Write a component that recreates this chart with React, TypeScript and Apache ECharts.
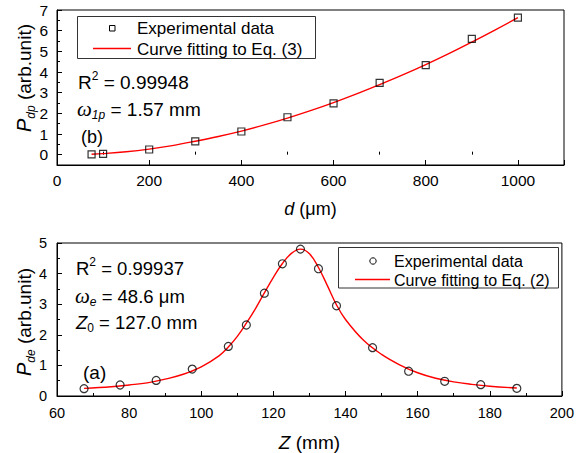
import React, { useEffect, useRef } from 'react';
import * as echarts from 'echarts';

// ---- Top panel (b): P_dp vs d ----
const topD = [75, 100, 200, 300, 400, 500, 600, 700, 800, 900, 1000];
const topP = [0.01, 0.04, 0.25, 0.64, 1.12, 1.81, 2.48, 3.47, 4.33, 5.6, 6.63];
const topFitD = [75, 100, 150, 200, 250, 300, 350, 400, 450, 500, 550, 600, 650, 700, 750, 800, 850, 900, 950, 1000];
const topFitP = [0.02, 0.05, 0.14, 0.27, 0.44, 0.65, 0.88, 1.14, 1.44, 1.77, 2.13, 2.52, 2.94, 3.39, 3.86, 4.36, 4.89, 5.45, 6.03, 6.63];
const topYLabels = [0, 1, 2, 3, 4, 5, 6, 7];
const topYMinor = [0.5, 1.5, 2.5, 3.5, 4.5, 5.5, 6.5];
const topXMinor = [100, 300, 500, 700, 900];
const topLegend = ['Experimental data', 'Curve fitting to Eq. (3)'];

// ---- Bottom panel (a): P_de vs Z ----
const botZ = [67.5, 77.5, 87.5, 97.5, 107.5, 112.5, 117.5, 122.5, 127.5, 132.5, 137.5, 147.5, 157.5, 167.5, 177.5, 187.5];
const botP = [0.24, 0.36, 0.51, 0.88, 1.62, 2.32, 3.36, 4.32, 4.8, 4.16, 2.95, 1.58, 0.81, 0.48, 0.37, 0.25];
const botFitZ = [67.5, 75, 80, 85, 90, 95, 100, 105, 107.5, 110, 112.5, 115, 117.5, 120, 122.5, 125, 127.5, 130, 132.5, 135, 137.5, 140, 145, 150, 155, 160, 165, 170, 175, 180, 187.5];
const botFitP = [0.25, 0.3, 0.36, 0.43, 0.55, 0.71, 0.95, 1.32, 1.6, 1.95, 2.38, 2.85, 3.37, 3.88, 4.33, 4.66, 4.8, 4.65, 4.2, 3.6, 2.98, 2.5, 1.82, 1.36, 1.02, 0.76, 0.58, 0.46, 0.38, 0.32, 0.26];
const botYMinor = [0.5, 1.5, 2.5, 3.5, 4.5];
const botXMinor = [70, 90, 110, 130, 150, 170, 190];
const botLegend = ['Experimental data', 'Curve fitting to Eq. (2)'];

const FONT = '"Liberation Sans", Arial, sans-serif';
const SERIF = '"Liberation Serif", "Times New Roman", serif';

const pairs = (xs: number[], ys: number[]) => xs.map((x, i) => [x, ys[i]]);

const majorTick = (len: number) => ({ show: true, inside: true, length: len, lineStyle: { color: '#000', width: 1 } });

function mainX(grid: number, min: number, max: number, interval: number, name: string, nameGap: number, fs: number, nfs: number, margin: number) {
  return {
    type: 'value', gridIndex: grid, min, max, interval, position: 'bottom',
    axisLine: { show: true, onZero: false, lineStyle: { color: '#000', width: 1 } },
    axisTick: majorTick(5),
    axisLabel: {
      margin, fontSize: fs, color: '#000', fontFamily: FONT,
      formatter: (v: number) => (Math.round(v) % interval === 0 ? String(v) : ''),
    },
    splitLine: { show: false },
    name, nameLocation: 'middle', nameGap,
    nameTextStyle: {
      fontSize: nfs, color: '#000', fontFamily: FONT,
      rich: { i: { fontStyle: 'italic', fontSize: nfs, fontFamily: FONT, color: '#000' } },
    },
  };
}

function minorAxis(kind: 'x' | 'y', grid: number, min: number, max: number, values: number[]) {
  return {
    type: 'value', gridIndex: grid, min, max, position: kind === 'x' ? 'bottom' : 'left',
    axisLine: { show: false },
    axisTick: { show: true, inside: true, length: 3, customValues: values, lineStyle: { color: '#000', width: 1 } },
    axisLabel: { show: false },
    splitLine: { show: false },
  };
}

function richText(x: number, y: number, text: string, rich: any, rotation = 0, align = 'left') {
  return {
    type: 'text', x, y, rotation, z: 50,
    style: {
      text, rich, align, textAlign: align, verticalAlign: 'middle', textVerticalAlign: 'middle', fill: '#000',
    },
  };
}

function plainText(x: number, y: number, text: string, fs: number) {
  return {
    type: 'text', x, y, z: 101,
    style: {
      text, fontSize: fs, fontFamily: FONT, fill: '#000',
      align: 'left', textAlign: 'left', verticalAlign: 'middle', textVerticalAlign: 'middle',
    },
  };
}

const main = (fs: number, lh = 24) => ({ fontSize: fs, fontFamily: FONT, fill: '#000', lineHeight: lh, verticalAlign: 'middle' });
const sup = (fs: number, lh = 24) => ({ fontSize: fs, fontFamily: FONT, fill: '#000', lineHeight: lh, verticalAlign: 'top' });
const sub = (fs: number, italic: boolean, lh = 24) => ({ fontSize: fs, fontFamily: FONT, fontStyle: italic ? 'italic' : 'normal', fill: '#000', lineHeight: lh, verticalAlign: 'bottom' });
const omega = (fs: number, lh = 24) => ({ fontSize: fs, fontFamily: SERIF, fontStyle: 'italic', fill: '#000', lineHeight: lh, verticalAlign: 'middle' });
const ital = (fs: number, lh = 24) => ({ fontSize: fs, fontFamily: FONT, fontStyle: 'italic', fill: '#000', lineHeight: lh, verticalAlign: 'middle' });

export default function App() {
  const ref = useRef<HTMLDivElement>(null);
  useEffect(() => {
    if (!ref.current) return;
    const chart = echarts.init(ref.current, undefined, { renderer: 'svg' });
    const option: any = {
      animation: false,
      backgroundColor: '#fff',
      grid: [
        { left: 57, top: 10, width: 507, height: 155, show: true, borderColor: '#000', borderWidth: 1, backgroundColor: 'transparent' },
        { left: 57, top: 243, width: 507, height: 154, show: true, borderColor: '#000', borderWidth: 1, backgroundColor: 'transparent' },
      ],
      xAxis: [
        mainX(0, 0, 1100, 200, '{i|d} (μm)', 35, 15.5, 18, 7),
        minorAxis('x', 0, 0, 1100, topXMinor),
        mainX(1, 60, 200, 20, '{i|Z} (mm)', 37, 14.5, 19, 9),
        minorAxis('x', 1, 60, 200, botXMinor),
      ],
      yAxis: [
        {
          type: 'value', gridIndex: 0, min: -0.5, max: 7, interval: 0.5, position: 'left',
          axisLine: { show: true, onZero: false, lineStyle: { color: '#000', width: 1 } },
          axisTick: { ...majorTick(5), customValues: topYLabels },
          axisLabel: { customValues: topYLabels, margin: 9, fontSize: 15.5, color: '#000', fontFamily: FONT },
          splitLine: { show: false },
        },
        minorAxis('y', 0, -0.5, 7, topYMinor),
        {
          type: 'value', gridIndex: 1, min: 0, max: 5, interval: 1, position: 'left',
          axisLine: { show: true, onZero: false, lineStyle: { color: '#000', width: 1 } },
          axisTick: majorTick(5),
          axisLabel: { margin: 10, fontSize: 14.5, color: '#000', fontFamily: FONT },
          splitLine: { show: false },
        },
        minorAxis('y', 1, 0, 5, botYMinor),
      ],
      series: [
        {
          name: topLegend[0], type: 'scatter', xAxisIndex: 0, yAxisIndex: 0, z: 5,
          symbol: 'rect', symbolSize: 7,
          itemStyle: { color: 'rgba(0,0,0,0)', borderColor: '#000', borderWidth: 1.2 },
          data: pairs(topD, topP),
        },
        {
          name: topLegend[1], type: 'line', xAxisIndex: 0, yAxisIndex: 0, z: 3,
          smooth: 0.4, symbol: 'none', color: '#ff0000',
          lineStyle: { color: '#ff0000', width: 1.4 },
          data: pairs(topFitD, topFitP),
        },
        {
          name: botLegend[0], type: 'scatter', xAxisIndex: 2, yAxisIndex: 2, z: 5,
          symbol: 'circle', symbolSize: 8,
          itemStyle: { color: 'rgba(0,0,0,0)', borderColor: '#000', borderWidth: 1.2 },
          data: pairs(botZ, botP),
        },
        {
          name: botLegend[1], type: 'line', xAxisIndex: 2, yAxisIndex: 2, z: 3,
          smooth: 0.4, symbol: 'none', color: '#ff0000',
          lineStyle: { color: '#ff0000', width: 1.4 },
          data: pairs(botFitZ, botFitP),
        },
      ],
      graphic: [
        // top legend
        { type: 'rect', z: 100, shape: { x: 77.5, y: 16.5, width: 238, height: 42 }, style: { fill: '#fff', stroke: '#333', lineWidth: 1 } },
        { type: 'rect', z: 101, shape: { x: 109.5, y: 25.5, width: 5.5, height: 5.5 }, style: { fill: 'none', stroke: '#000', lineWidth: 1 } },
        { type: 'line', z: 101, shape: { x1: 93, y1: 48.5, x2: 131, y2: 48.5 }, style: { stroke: '#ff0000', lineWidth: 1.4 } },
        plainText(137, 28.5, topLegend[0], 17),
        plainText(137, 49, topLegend[1], 17),
        // bottom legend
        { type: 'rect', z: 100, shape: { x: 338.5, y: 247.5, width: 220, height: 40.5 }, style: { fill: '#fff', stroke: '#333', lineWidth: 1 } },
        { type: 'circle', z: 101, shape: { cx: 373, cy: 261, r: 3.2 }, style: { fill: 'none', stroke: '#000', lineWidth: 1 } },
        { type: 'line', z: 101, shape: { x1: 355, y1: 279.5, x2: 390, y2: 279.5 }, style: { stroke: '#ff0000', lineWidth: 1.4 } },
        plainText(394, 261, botLegend[0], 16),
        plainText(394, 280, botLegend[1], 16),
        // top annotations
        richText(78, 82, '{a|R}{s|2}{a| = 0.99948}', { a: main(19), s: sup(12) }),
        richText(77, 109, '{w|ω}{b|1p}{a| = 1.57 mm}', { w: omega(21), b: sub(12, true), a: main(19) }),
        richText(81, 137, '{a|(b)}', { a: main(18) }),
        // bottom annotations
        richText(76, 268, '{a|R}{s|2}{a| = 0.99937}', { a: main(18.5), s: sup(12) }),
        richText(75, 296, '{w|ω}{b|e}{a| = 48.6 μm}', { w: omega(21), b: sub(12, true), a: main(18.5) }),
        richText(76, 322, '{z|Z}{b|0}{a| = 127.0 mm}', { z: ital(18.5), b: sub(12, false), a: main(18.5) }),
        richText(83, 372, '{a|(a)}', { a: main(19) }),
        // y axis names
        richText(24, 78, '{p|P}{b|dp}{a| (arb.unit)}', { p: ital(20, 26), b: sub(12, true, 26), a: main(19, 26) }, Math.PI / 2, 'center'),
        richText(24, 322, '{p|P}{b|de}{a| (arb.unit)}', { p: ital(20, 26), b: sub(12, true, 26), a: main(19, 26) }, Math.PI / 2, 'center'),
      ],
    };
    chart.setOption(option);
    return () => chart.dispose();
  }, []);
  return (
    <div
      ref={ref}
      style={{ position: 'fixed', left: 0, top: 0, width: 577, height: 453, background: '#fff' }}
    />
  );
}
